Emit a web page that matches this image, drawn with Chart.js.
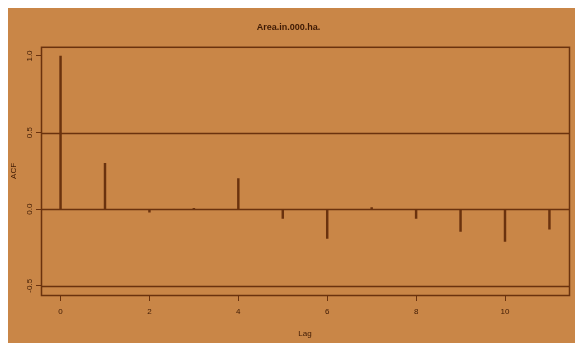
<!DOCTYPE html>
<html>
<head>
<meta charset="utf-8">
<title>Area.in.000.ha. — ACF</title>
<script src="https://cdn.jsdelivr.net/npm/chart.js@4/dist/chart.umd.min.js"></script>
<style>
  html, body { margin: 0; padding: 0; background: #ffffff; }
  #wrap { position: absolute; left: 8px; top: 8px; width: 567px; height: 335px; background: #c98647; }
  canvas { display: block; }
</style>
</head>
<body>
<div id="wrap"><canvas id="acf" width="567" height="335"></canvas></div>
<script>
// Autocorrelation of the series at lags 0..11
const lags = [0, 1, 2, 3, 4, 5, 6, 7, 8, 9, 10, 11];
const acfValues = [1.0, 0.30, -0.02, 0.005, 0.20, -0.06, -0.19, 0.01, -0.06, -0.145, -0.21, -0.13];
// Significance bound drawn as horizontal lines at +/- this value
const ciBound = 0.5;
const xTicks = [0, 2, 4, 6, 8, 10];
const yTicks = [-0.5, 0.0, 0.5, 1.0];
const yTickLabels = ['-0.5', '0.0', '0.5', '1.0'];

const ink = '#6a320e';
const textInk = '#3e1a04';
const family = '"Liberation Sans", Arial, sans-serif';

// Box around the plotting region plus zero and bound lines
const framePlugin = {
  id: 'frame',
  beforeDatasetsDraw(chart) {
    const { ctx, chartArea: a, scales: { y } } = chart;
    ctx.save();
    ctx.strokeStyle = ink;
    ctx.lineWidth = 1.5;
    [0, ciBound, -ciBound].forEach(v => {
      const py = Math.round(y.getPixelForValue(v)) + 0.5;
      ctx.beginPath();
      ctx.moveTo(a.left, py);
      ctx.lineTo(a.right, py);
      ctx.stroke();
    });
    ctx.strokeRect(a.left + 0.5, a.top + 0.5, a.right - a.left, a.bottom - a.top);
    ctx.restore();
  }
};

new Chart(document.getElementById('acf'), {
  type: 'bar',
  data: {
    datasets: [{
      label: 'ACF',
      data: lags.map((l, i) => ({ x: l, y: acfValues[i] })),
      backgroundColor: ink,
      borderWidth: 0,
      barThickness: 1.8
    }]
  },
  options: {
    responsive: false,
    animation: false,
    devicePixelRatio: 1,
    layout: { padding: { left: 0, right: 6, top: 0, bottom: 0 } },
    plugins: {
      legend: { display: false },
      tooltip: { enabled: false },
      title: {
        display: true,
        text: 'Area.in.000.ha.',
        color: textInk,
        font: { family, size: 9, weight: 'bold' },
        padding: { top: 14, bottom: 14 }
      }
    },
    scales: {
      x: {
        type: 'linear',
        offset: false,
        min: -0.44,
        max: 11.44,
        afterBuildTicks(scale) { scale.ticks = xTicks.map(v => ({ value: v })); },
        afterFit(scale) { scale.height = 48; },
        grid: { display: true, offset: false, drawOnChartArea: false, drawTicks: true, tickLength: 6, tickColor: ink, color: ink },
        border: { display: false },
        ticks: { color: textInk, font: { family, size: 8 }, padding: 6, maxRotation: 0, callback: v => String(v) },
        title: { display: true, text: 'Lag', color: textInk, font: { family, size: 8 }, padding: { top: 4 } }
      },
      y: {
        type: 'linear',
        min: -0.56,
        max: 1.06,
        afterBuildTicks(scale) { scale.ticks = yTicks.map(v => ({ value: v })); },
        afterFit(scale) { scale.width = 33; },
        grid: { display: true, drawOnChartArea: false, drawTicks: true, tickLength: 5, tickColor: ink, color: ink },
        border: { display: false },
        ticks: {
          color: textInk,
          font: { family, size: 8 },
          padding: -1,
          minRotation: 90,
          maxRotation: 90,
          crossAlign: 'center',
          callback: (v) => yTickLabels[yTicks.indexOf(v)]
        },
        title: { display: true, text: 'ACF', color: textInk, font: { family, size: 8 }, padding: { top: 1, bottom: 0 } }
      }
    }
  },
  plugins: [framePlugin]
});
</script>
</body>
</html>
